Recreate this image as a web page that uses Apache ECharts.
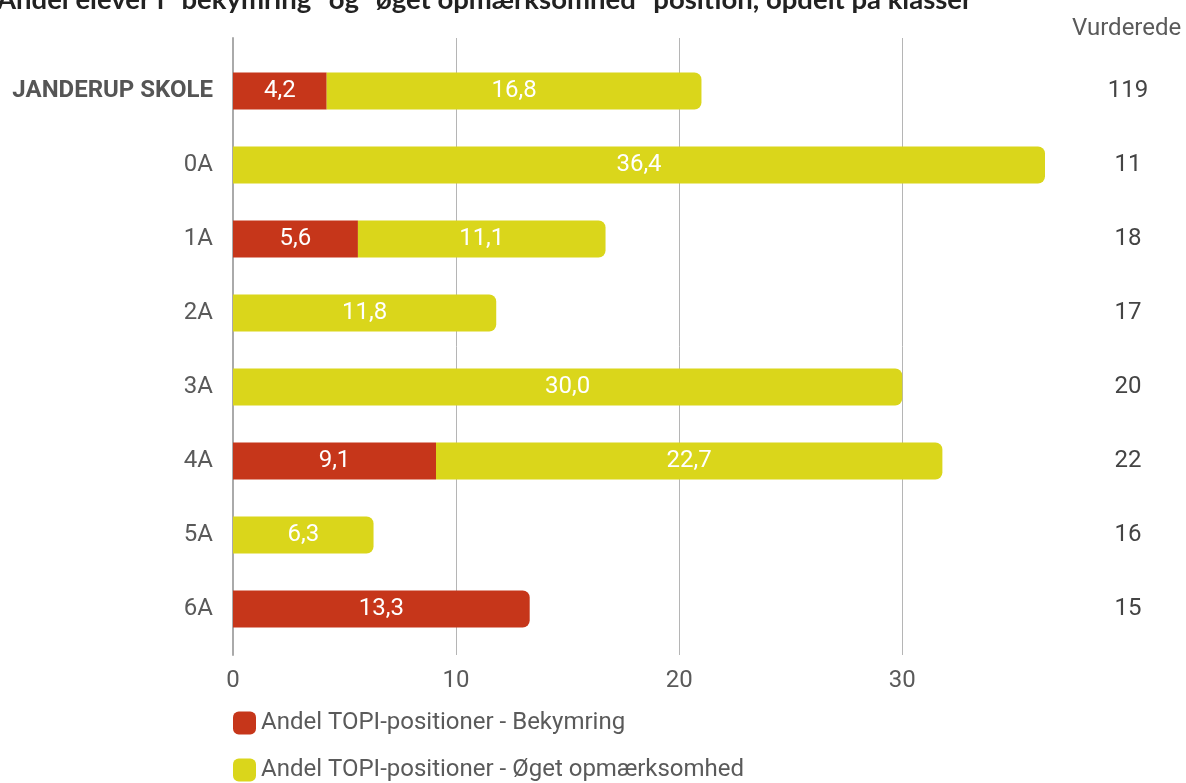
<!DOCTYPE html>
<html>
<head>
<meta charset="utf-8">
<script src="https://cdn.jsdelivr.net/npm/echarts@6/dist/echarts.min.js"></script>
<style>
html,body{margin:0;padding:0;background:#fff;}
#chart{width:1186px;height:783px;}
</style>
</head>
<body>
<div id="chart"></div>
<script>
const categories = ['JANDERUP SKOLE', '0A', '1A', '2A', '3A', '4A', '5A', '6A'];
const bekymring = [4.2, null, 5.6, null, null, 9.1, null, 13.3];
const oget = [16.8, 36.4, 11.1, 11.8, 30.0, 22.7, 6.3, null];
const vurderede = ['119', '11', '18', '17', '20', '22', '16', '15'];
const xTicks = [0, 10, 20, 30];

const RED = '#c6361a';
const YEL = '#dad61b';
const FONT = 'Roboto';
const FS = 24;
const XMAX = 36.4;

function fmt(v) { return v.toFixed(1).replace('.', ','); }

function seriesData(vals, isLast) {
  return vals.map((v, i) => {
    if (v == null) return null;
    const last = isLast(i);
    return { value: v, itemStyle: { borderRadius: last ? [0, 7, 7, 0] : 0 } };
  });
}

const chart = echarts.init(document.getElementById('chart'));
chart.setOption({
  backgroundColor: '#fff',
  animation: false,
  title: {
    text: 'Andel elever i "bekymring" og "øget opmærksomhed" position, opdelt på klasser',
    left: -8, top: -19,
    textStyle: { fontFamily: 'Lato', fontWeight: 'bold', fontSize: 27.5, color: '#222' }
  },
  graphic: [{
    type: 'text', left: 1072, top: 17,
    style: { text: 'Vurderede', fontFamily: FONT, fontSize: FS, fill: '#5a5a5a' }
  }],
  legend: {
    orient: 'vertical',
    left: 233, top: 711, padding: 0,
    itemWidth: 23, itemHeight: 23, itemGap: 23,
    icon: 'roundRect',
    textStyle: { fontFamily: FONT, fontSize: FS, color: '#5a5a5a' },
    data: ['Andel TOPI-positioner - Bekymring', 'Andel TOPI-positioner - Øget opmærksomhed']
  },
  grid: [
    { left: 233, right: 141, top: 54, height: 592 },
    { left: 233, right: 141, top: 38, bottom: 128 }
  ],
  xAxis: [
    { type: 'value', gridIndex: 0, min: 0, max: XMAX, show: false },
    {
      type: 'value', gridIndex: 1, min: 0, max: XMAX, interval: 10,
      axisLine: { show: false }, axisTick: { show: false },
      splitLine: { show: true, showMaxLine: false, lineStyle: { color: '#b5b5b5', width: 1 } },
      axisLabel: {
        showMaxLabel: false, margin: 14,
        fontFamily: FONT, fontSize: FS, color: '#5a5a5a',
        formatter: v => (xTicks.indexOf(v) >= 0 ? String(v) : '')
      }
    }
  ],
  yAxis: [
    {
      type: 'category', gridIndex: 0, data: categories, inverse: true,
      axisLine: { show: false }, axisTick: { show: false },
      axisLabel: {
        margin: 20, fontFamily: FONT, fontSize: FS, color: '#5a5a5a',
        formatter: (v, i) => (i === 0 ? '{b|' + v + '}' : v),
        rich: { b: { fontFamily: FONT, fontSize: FS, fontWeight: 'bold', color: '#555' } }
      }
    },
    {
      type: 'category', gridIndex: 0, data: vurderede, inverse: true, position: 'right',
      axisLine: { show: false }, axisTick: { show: false },
      axisLabel: { margin: 83, align: 'center', fontFamily: FONT, fontSize: FS, color: '#444' }
    },
    {
      type: 'value', gridIndex: 1, min: 0, max: 1,
      axisLine: { show: true, lineStyle: { color: '#aaaaaa', width: 2 } },
      axisTick: { show: false }, axisLabel: { show: false }, splitLine: { show: false }
    }
  ],
  series: [
    {
      name: 'Andel TOPI-positioner - Bekymring', type: 'bar', stack: 'a',
      xAxisIndex: 0, yAxisIndex: 0, barWidth: 37,
      itemStyle: { color: RED },
      data: seriesData(bekymring, i => oget[i] == null),
      label: { show: true, position: 'inside', color: '#fff', fontFamily: FONT, fontSize: FS, formatter: p => fmt(p.value) }
    },
    {
      name: 'Andel TOPI-positioner - Øget opmærksomhed', type: 'bar', stack: 'a',
      xAxisIndex: 0, yAxisIndex: 0, barWidth: 37,
      itemStyle: { color: YEL },
      data: seriesData(oget, i => true),
      label: { show: true, position: 'inside', color: '#fff', fontFamily: FONT, fontSize: FS, formatter: p => fmt(p.value) }
    }
  ]
});
</script>
</body>
</html>
